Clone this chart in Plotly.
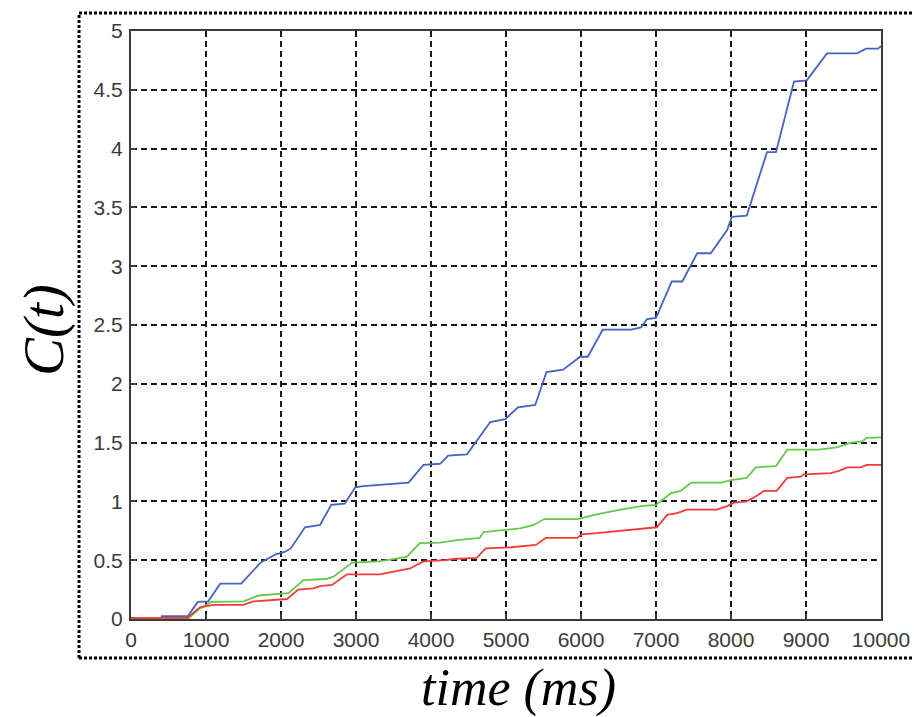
import plotly.graph_objects as go

# ---- data ----
blue_t = [0, 400, 410, 760, 890, 1030, 1190, 1470, 1670, 1730, 1930, 2050, 2130, 2320, 2520, 2670, 2850,
          2990, 3100, 3700, 3900, 4120, 4230, 4480, 4790, 4990, 5160, 5390, 5540, 5760, 5990, 6090, 6290,
          6670, 6800, 6880, 7000, 7210, 7350, 7550, 7730, 7950, 8010, 8210, 8480, 8600, 8840, 9010, 9280,
          9680, 9800, 9960, 10000]
blue_v = [0, 0, 0.025, 0.025, 0.145, 0.15, 0.30, 0.30, 0.44, 0.48, 0.55, 0.57, 0.60, 0.78, 0.80, 0.97, 0.98,
          1.12, 1.13, 1.16, 1.31, 1.32, 1.39, 1.40, 1.675, 1.70, 1.80, 1.82, 2.10, 2.12, 2.23, 2.23, 2.46,
          2.46, 2.48, 2.55, 2.56, 2.87, 2.87, 3.11, 3.11, 3.31, 3.42, 3.43, 3.97, 3.97, 4.57, 4.58, 4.81,
          4.81, 4.85, 4.85, 4.87]

green_t = [0, 760, 900, 1070, 1500, 1700, 2100, 2300, 2600, 2700, 2950, 3300, 3500, 3680, 3850, 4120, 4350,
           4650, 4700, 4970, 5190, 5370, 5510, 5950, 6210, 6530, 6800, 7000, 7200, 7330, 7470, 7870, 8000,
           8210, 8330, 8600, 8750, 9170, 9410, 9600, 9750, 9810, 10000]
green_v = [0, 0, 0.08, 0.145, 0.15, 0.20, 0.22, 0.33, 0.34, 0.36, 0.48, 0.49, 0.51, 0.53, 0.645, 0.65, 0.67,
           0.69, 0.74, 0.755, 0.77, 0.80, 0.85, 0.85, 0.89, 0.93, 0.96, 0.97, 1.07, 1.09, 1.16, 1.16, 1.18,
           1.20, 1.29, 1.30, 1.44, 1.44, 1.46, 1.50, 1.51, 1.54, 1.545]

red_t = [0, 750, 920, 1100, 1500, 1630, 2080, 2230, 2430, 2520, 2680, 2880, 3320, 3540, 3720, 3900, 4200,
         4300, 4610, 4730, 5070, 5400, 5530, 5950, 6010, 6210, 6530, 6800, 7010, 7150, 7280, 7410, 7810,
         7950, 8040, 8210, 8350, 8440, 8610, 8750, 8930, 8970, 9330, 9440, 9550, 9730, 9810, 10000]
red_v = [0.01, 0.01, 0.10, 0.12, 0.12, 0.15, 0.17, 0.25, 0.26, 0.28, 0.29, 0.38, 0.38, 0.41, 0.43, 0.49, 0.50,
         0.51, 0.52, 0.60, 0.61, 0.63, 0.69, 0.69, 0.72, 0.73, 0.75, 0.77, 0.78, 0.885, 0.90, 0.93, 0.93,
         0.96, 0.99, 1.00, 1.05, 1.09, 1.09, 1.20, 1.21, 1.23, 1.24, 1.26, 1.29, 1.29, 1.31, 1.31]

x_ticks = [0, 1000, 2000, 3000, 4000, 5000, 6000, 7000, 8000, 9000, 10000]
y_ticks = [0, 0.5, 1, 1.5, 2, 2.5, 3, 3.5, 4, 4.5, 5]
y_tick_text = ["0", "0.5", "1", "1.5", "2", "2.5", "3", "3.5", "4", "4.5", "5"]

x_label = "time (ms)"
y_label = "C(t)"

fig = go.Figure()
fig.add_trace(go.Scatter(x=blue_t, y=blue_v, mode="lines", line=dict(color="#4563c2", width=1.8),
                         showlegend=False))
fig.add_trace(go.Scatter(x=green_t, y=green_v, mode="lines", line=dict(color="#66c848", width=1.8),
                         showlegend=False))
fig.add_trace(go.Scatter(x=red_t, y=red_v, mode="lines", line=dict(color="#f23a3a", width=1.8),
                         showlegend=False))

axis_common = dict(
    showgrid=True, gridcolor="#1a1a1a", gridwidth=1.5, griddash="6px,4px",
    showline=True, linecolor="#3a3a3a", linewidth=2, mirror=True,
    ticks="inside", ticklen=5, tickcolor="#3a3a3a", tickwidth=1.5,
    zeroline=False, automargin=False,
    tickfont=dict(family="Liberation Sans, Arial", size=21, color="#3a3a3a"),
)

fig.update_xaxes(range=[0, 10000], tickvals=x_ticks, ticktext=[str(v) for v in x_ticks],
                 ticklabelstandoff=1, **axis_common)
fig.update_yaxes(range=[0, 5], tickvals=y_ticks, ticktext=y_tick_text,
                 ticklabelstandoff=2, **axis_common)

# figure made a little wider than the window so the border runs off the right edge
bx0, bx1, by0, by1 = -0.0693, 1.06, -0.0663, 1.0306
border = dict(color="black", width=3, dash="3px,2px")
fig.update_layout(
    width=940, height=717, autosize=False,
    margin=dict(l=131, r=59, t=31, b=98, autoexpand=False),
    paper_bgcolor="white", plot_bgcolor="white",
    shapes=[
        dict(type="line", xref="paper", yref="paper", x0=bx0, x1=bx0, y0=by0, y1=by1, line=border),
        dict(type="line", xref="paper", yref="paper", x0=bx0, x1=bx1, y0=by1, y1=by1, line=border),
        dict(type="line", xref="paper", yref="paper", x0=bx0, x1=bx1, y0=by0, y1=by0, line=border),
    ],
    annotations=[
        dict(text=x_label, xref="paper", yref="paper", x=(518 - 131) / 750, y=(619 - 688) / 588,
             showarrow=False, xanchor="center", yanchor="middle",
             font=dict(family="Liberation Serif, Times New Roman", size=52, color="black"),
             textangle=0),
        dict(text=y_label, xref="paper", yref="paper", x=(44 - 131) / 750, y=(619 - 330) / 588,
             showarrow=False, xanchor="center", yanchor="middle", textangle=-90,
             font=dict(family="Liberation Serif, Times New Roman", size=57, color="black")),
    ],
)
for a in fig.layout.annotations:
    a.text = "<i>" + a.text + "</i>"

fig.write_html("out.html", config={"displayModeBar": False},
               post_script="document.body.style.margin='0';document.body.style.overflow='hidden';")
